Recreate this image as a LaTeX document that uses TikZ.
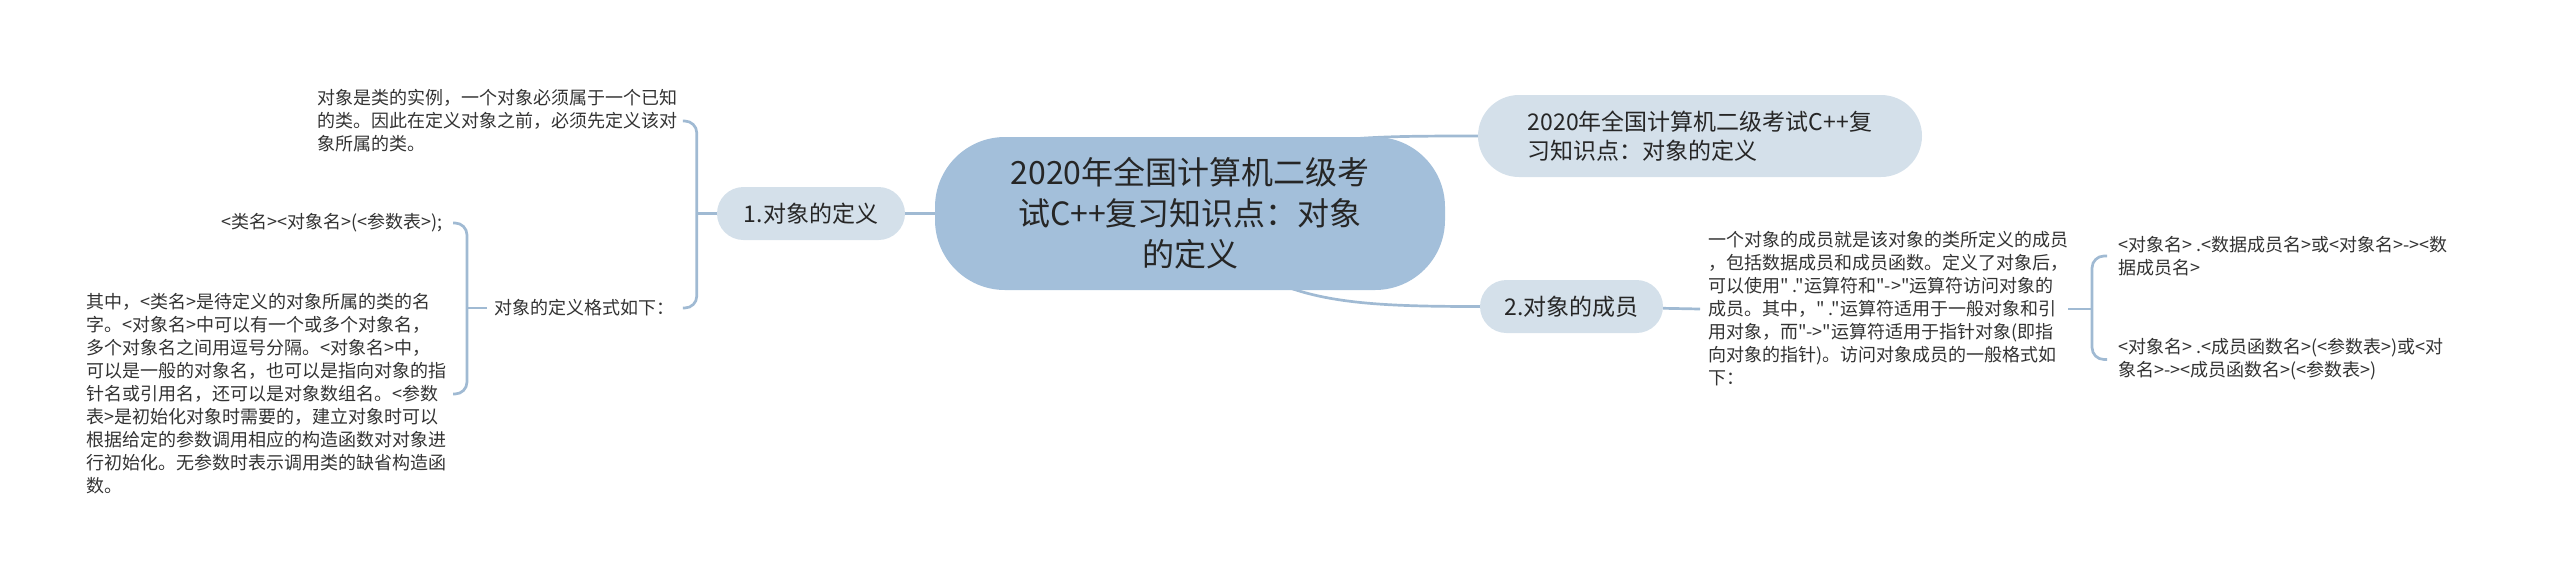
\documentclass[tikz,border=0pt]{standalone}
\usepackage{fontspec}
\newfontfamily\cjk{Noto Sans CJK SC}
\usepackage{tikz}
\usetikzlibrary{calc}
\definecolor{zhulan}{HTML}{A3BFDA}
\definecolor{qianlan}{HTML}{D4E0EA}
\definecolor{xianse}{HTML}{A0BAD3}
\definecolor{mozi}{HTML}{333333}
\pgfdeclarelayer{beijing}
\pgfsetlayers{beijing,main}

\begin{document}
\begin{tikzpicture}[x=1pt,y=-1pt] %% tikz
	\tikzstyle{zhongxin}=[fill=zhulan,text=black!85,rounded corners=70pt,minimum width=510pt,minimum height=153pt,align=center,font=\cjk\fontsize{32pt}{41pt}\selectfont];
	\tikzstyle{fenzhi}=[fill=qianlan,text=black!85,rounded corners=26.5pt,minimum height=53pt,font=\cjk\fontsize{23pt}{29pt}\selectfont];
	\tikzstyle{wenzi}=[inner sep=0pt,align=left,text=mozi,font=\cjk\fontsize{18pt}{23pt}\selectfont];
	\tikzstyle{xian}=[draw=xianse,line width=2.7pt];
	\useasboundingbox (0,0) rectangle (2560,582);
	%% center and branches
	\node[zhongxin] (ZX) at (1190,213.5) {2020年全国计算机二级考\\试C++复习知识点：对象\\的定义};
	\node[fenzhi,align=left,minimum width=444pt,minimum height=82pt,rounded corners=41pt] (F0) at (1700,136) {2020年全国计算机二级考试C++复\\习知识点：对象的定义};
	\node[fenzhi,minimum width=188pt] (F1) at (811,213.5) {1.对象的定义};
	\node[fenzhi,minimum width=183pt] (F2) at (1571.5,306.5) {2.对象的成员};
	%% left leaves
	\node[wenzi,anchor=west] (Y1) at (317,121) {对象是类的实例，一个对象必须属于一个已知\\的类。因此在定义对象之前，必须先定义该对\\象所属的类。};
	\node[wenzi,anchor=west] (Y2) at (494,308) {对象的定义格式如下：};
	\node[wenzi,anchor=east] (Y3) at (443,223) {<类名><对象名>(<参数表>);};
	\node[wenzi,anchor=west] (Y4) at (86,394) {其中，<类名>是待定义的对象所属的类的名\\字。<对象名>中可以有一个或多个对象名，\\多个对象名之间用逗号分隔。<对象名>中，\\可以是一般的对象名，也可以是指向对象的指\\针名或引用名，还可以是对象数组名。<参数\\表>是初始化对象时需要的，建立对象时可以\\根据给定的参数调用相应的构造函数对对象进\\行初始化。无参数时表示调用类的缺省构造函\\数。};
	%% right leaves
	\node[wenzi,anchor=west] (Y5) at (1708,309) {一个对象的成员就是该对象的类所定义的成员\\，包括数据成员和成员函数。定义了对象后，\\可以使用" ."运算符和"->"运算符访问对象的\\成员。其中，" ."运算符适用于一般对象和引\\用对象，而"->"运算符适用于指针对象(即指\\向对象的指针)。访问对象成员的一般格式如\\下：};
	\node[wenzi,anchor=west] (Y6) at (2118,256) {<对象名> .<数据成员名>或<对象名>-><数\\据成员名>};
	\node[wenzi,anchor=west] (Y7) at (2118,359.5) {<对象名> .<成员函数名>(<参数表>)或<对\\象名>-><成员函数名>(<参数表>)};
	\begin{pgfonlayer}{beijing}
	%% main branches
	\draw[xian] (ZX) -- (F1);
	\draw[xian] (ZX.center) .. controls +(70,-77) and +(-150,0) .. (F0.west);
	\draw[xian] (ZX.center) .. controls +(70,87) and +(-150,0) .. (F2.west);
	%% brackets, left side
	\coordinate (j1) at ($(F1.west)+(-20,0)$);
	\draw[xian] (F1) -- (j1);
	\draw[xian,rounded corners=12pt] ($(j1|-Y1)+(-14,0)$) -| (j1) |- ($(j1|-Y2)+(-14,0)$);
	\coordinate (j2) at ($(Y2.west)+(-27,0)$);
	\draw[xian] ($(Y2.west)+(-7,0)$) -- (j2);
	\draw[xian,rounded corners=12pt] ($(j2|-Y3)+(-14,0)$) -| (j2) |- ($(j2|-Y4)+(-14,0)$);
	%% brackets, right side
	\draw[xian] (F2) -- ($(Y5.west)+(-8,0)$);
	\coordinate (j3) at ($(Y5.east -| Y6.west)+(-26,0)$);
	\draw[xian] (Y5.east) -- (j3);
	\draw[xian,rounded corners=12pt] ($(j3|-Y6)+(15,0)$) -| (j3) |- ($(j3|-Y7)+(15,0)$);
	\end{pgfonlayer}
\end{tikzpicture}
\end{document}
